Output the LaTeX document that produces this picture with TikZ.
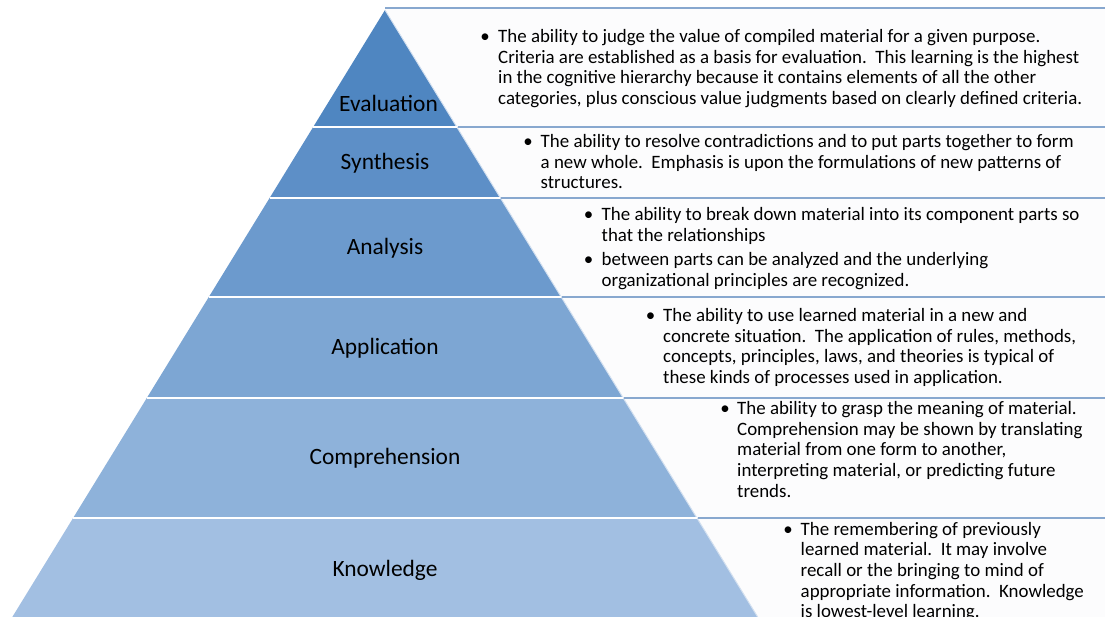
\documentclass[tikz,border=0pt]{standalone}
\usepackage{fontspec}
\setmainfont{Carlito}
\definecolor{cEva}{HTML}{4F86C1}
\definecolor{cSyn}{HTML}{5D8FC7}
\definecolor{cAna}{HTML}{6C9ACD}
\definecolor{cApp}{HTML}{7DA6D3}
\definecolor{cCom}{HTML}{8EB2DA}
\definecolor{cKno}{HTML}{A2BFE2}
\definecolor{boxline}{HTML}{88A8CF}
\definecolor{boxfill}{HTML}{FCFCFD}
\definecolor{edgeline}{HTML}{D3E0F0}
\begin{document}
\begin{tikzpicture}[x=1pt,y=-1pt,
  layerlabel/.style={anchor=base,inner sep=0pt,font=\fontsize{23.4}{28}\selectfont},
  desc/.style={anchor=base west,inner sep=0pt,align=left,font=\fontsize{18.9}{20.7}\selectfont},
  bul/.style={anchor=base,inner sep=0pt,font=\fontsize{18.9}{20.7}\selectfont},
  sep/.style={white,line width=2pt},
  hline/.style={boxline,line width=1.3pt}]
\useasboundingbox (0,0) rectangle (1105,617);
\clip (0,0) rectangle (1105,617);
% boxes
\fill[boxfill] (385,8) -- (1105,8) -- (1105,617) -- (757.7,617) -- cycle;
% pyramid layers
\fill[cEva] (385,10) -- (456.8,127) -- (313.2,127) -- cycle;
\fill[cSyn] (313.2,127) -- (456.8,127) -- (500.4,198) -- (269.6,198) -- cycle;
\fill[cAna] (269.6,198) -- (500.4,198) -- (561.2,297) -- (208.8,297) -- cycle;
\fill[cApp] (208.8,297) -- (561.2,297) -- (623.2,398) -- (146.8,398) -- cycle;
\fill[cCom] (146.8,398) -- (623.2,398) -- (696.9,518) -- (73.1,518) -- cycle;
\fill[cKno] (73.1,518) -- (696.9,518) -- (757.7,617) -- (12.3,617) -- cycle;
\draw[edgeline,line width=1pt] (385,10) -- (757.7,617);
% separators
\draw[sep] (313.2,127) -- (456.8,127);
\draw[sep] (269.6,198) -- (500.4,198);
\draw[sep] (208.8,297) -- (561.2,297);
\draw[sep] (146.8,398) -- (623.2,398);
\draw[sep] (73.1,518) -- (696.9,518);
% box lines
\draw[hline] (385,8) -- (1105,8);
\draw[hline] (457.5,127) -- (1105,127);
\draw[hline] (501,198) -- (1105,198);
\draw[hline] (562,297) -- (1105,297);
\draw[hline] (624,398) -- (1105,398);
\draw[hline] (697.5,518) -- (1105,518);
% labels
\node[layerlabel] (leva) at (388.5,111.5) {Evaluation};
\node[layerlabel] (lsyn) at (385,170) {Synthesis};
\node[layerlabel] (lana) at (385,254.5) {Analysis};
\node[layerlabel] (lapp) at (385,354) {Application};
\node[layerlabel] (lcom) at (385,464.5) {Comprehension};
\node[layerlabel] (lkno) at (385,576) {Knowledge};
% descriptions (anchor = baseline of last line)
\node[bul] (beva) at (485,42.5) {\textbullet};
\node[desc] (deva) at (498,104.6) {The ability to judge the value of compiled material for a given purpose.\\Criteria are established as a basis for evaluation.\ \ This learning is the highest\\in the cognitive hierarchy because it contains elements of all the other\\categories, plus conscious value judgments based on clearly defined criteria.};
\node[bul] (bsyn) at (528,147.5) {\textbullet};
\node[desc] (dsyn) at (540.5,188.9) {The ability to resolve contradictions and to put parts together to form\\a new whole.\ \ Emphasis is upon the formulations of new patterns of\\structures.};
\node[bul] (bana1) at (588.5,220.5) {\textbullet};
\node[desc] (dana1) at (601.5,241.2) {The ability to break down material into its component parts so\\that the relationships};
\node[bul] (bana2) at (588.5,266) {\textbullet};
\node[desc] (dana2) at (601.5,286.7) {between parts can be analyzed and the underlying\\organizational principles are recognized.};
\node[bul] (bapp) at (650.5,321.5) {\textbullet};
\node[desc] (dapp) at (663,383.6) {The ability to use learned material in a new and\\concrete situation.\ \ The application of rules, methods,\\concepts, principles, laws, and theories is typical of\\these kinds of processes used in application.};
\node[bul] (bcom) at (725,414.5) {\textbullet};
\node[desc] (dcom) at (737,497.3) {The ability to grasp the meaning of material.\\Comprehension may be shown by translating\\material from one form to another,\\interpreting material, or predicting future\\trends.};
\node[bul] (bkno) at (788,535) {\textbullet};
\node[desc] (dkno) at (800.5,617.8) {The remembering of previously\\learned material.\ \ It may involve\\recall or the bringing to mind of\\appropriate information.\ \ Knowledge\\is lowest-level learning.};
\end{tikzpicture}
\end{document}
